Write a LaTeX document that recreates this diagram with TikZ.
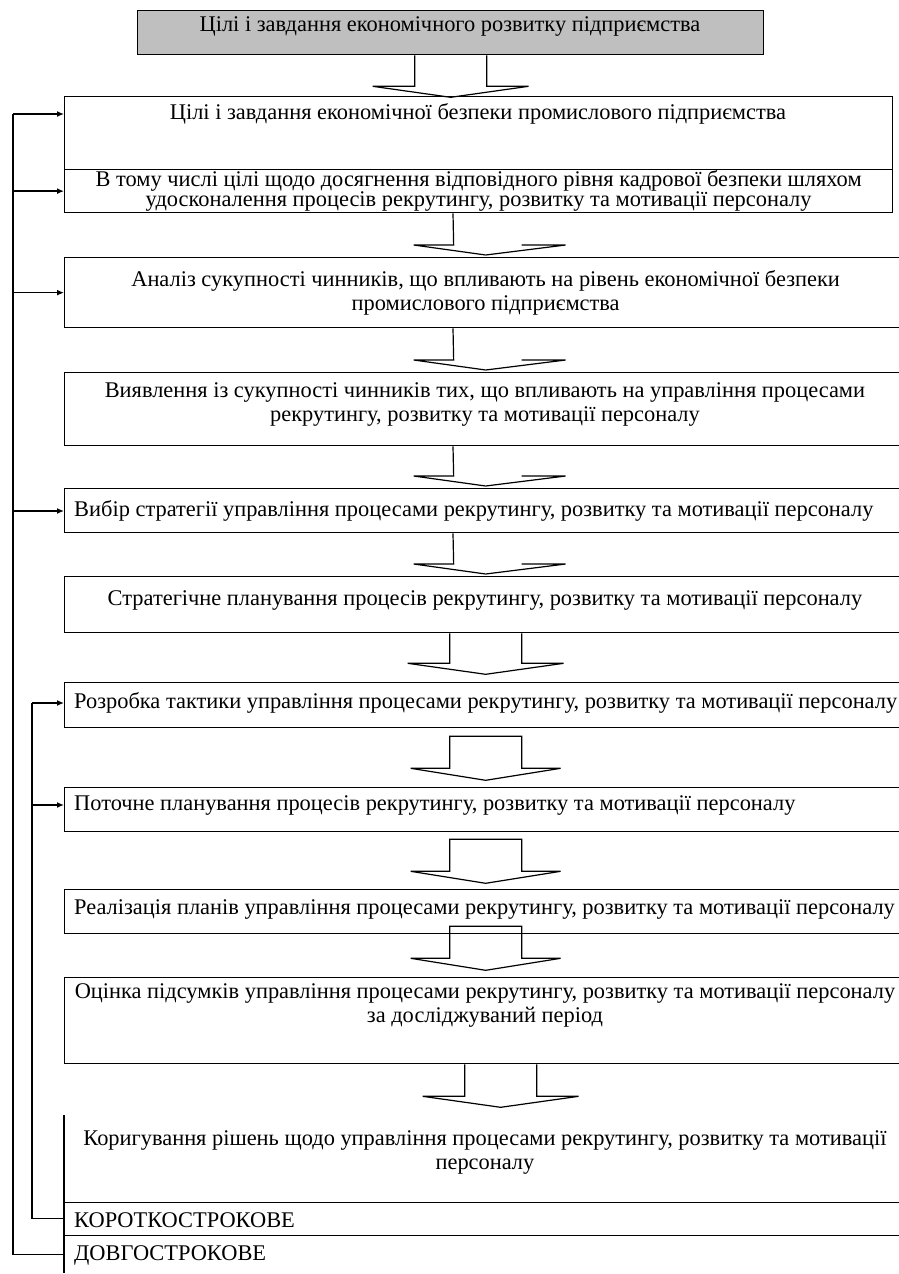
\documentclass[tikz,border=0pt]{standalone}
\usepackage{fontspec}
\setmainfont{Liberation Serif}
\usetikzlibrary{arrows.meta}

\begin{document}
\begin{tikzpicture}[x=1pt,y=-1pt,
  box/.style={draw=black, line width=1.3pt, inner sep=0pt, anchor=north west},
  slot/.style={inner sep=0pt, anchor=north west},
  txt/.style={font=\fontsize{22.4}{24}\selectfont, inner sep=0pt, align=center},
  blk/.style={draw=black, line width=1.2pt},
  fb/.style={line width=1.4pt},
  fbarr/.style={line width=1.4pt, -{Latex[length=7pt,width=6pt]}}]
\useasboundingbox (0,0) rectangle (899,1274);
\clip (0,0) rectangle (899,1274);

% boxes
\node[box, fill=black!25, minimum width=626pt, minimum height=44pt] (b1) at (137,10) {};
\node[box, minimum width=828pt, minimum height=73pt] (b2) at (64,96) {};
\node[box, minimum width=828pt, minimum height=43pt] (b2s) at (64,169) {};
\node[box, minimum width=842pt, minimum height=70pt] (b3) at (64,257) {};
\node[box, minimum width=842pt, minimum height=73pt] (b4) at (64,372) {};
\node[box, minimum width=842pt, minimum height=44pt] (b5) at (64,488) {};
\node[box, minimum width=842pt, minimum height=56pt] (b6) at (64,576) {};
\node[box, minimum width=842pt, minimum height=45pt] (b7) at (64,682) {};
\node[box, minimum width=842pt, minimum height=44pt] (b8) at (64,787) {};
\node[box, minimum width=842pt, minimum height=44pt] (b9) at (64,889) {};
\node[box, minimum width=842pt, minimum height=86pt] (b10) at (64,977) {};
\node[slot, minimum width=842pt, minimum height=87pt] (b11) at (64,1115) {};
\node[slot, minimum width=842pt, minimum height=33pt] (b12) at (64,1202) {};
\node[slot, minimum width=842pt, minimum height=38pt] (b13) at (64,1235) {};
\draw[line width=1.3pt] (b11.north west) -- (b13.south west);
\draw[line width=1.3pt] (b11.south west) -- (b11.south east);
\draw[line width=1.3pt] (b12.south west) -- (b12.south east);

% texts
\node[txt] (t1) at (450,27) {Цілі і завдання економічного розвитку підприємства};
\node[txt] (t2) at (478,114) {Цілі і завдання економічної безпеки промислового підприємства};
\node[txt, font=\fontsize{22.4}{20}\selectfont] (t2s) at (b2s.center) {В тому числі цілі щодо досягнення відповідного рівня кадрової безпеки шляхом\\удосконалення процесів рекрутингу, розвитку та мотивації персоналу};
\node[txt] (t3) at (b3.center) {Аналіз сукупності чинників, що впливають на рівень економічної безпеки\\промислового підприємства};
\node[txt] (t4) at (485,404) {Виявлення із сукупності чинників тих, що впливають на управління процесами\\рекрутингу, розвитку та мотивації персоналу};
\node[txt, anchor=west] (t5) at (74,511) {Вибір стратегії управління процесами рекрутингу, розвитку та мотивації персоналу};
\node[txt] (t6) at (485,600) {Стратегічне планування процесів рекрутингу, розвитку та мотивації персоналу};
\node[txt, anchor=west] (t7) at (74,703) {Розробка тактики управління процесами рекрутингу, розвитку та мотивації персоналу};
\node[txt, anchor=west] (t8) at (74,805) {Поточне планування процесів рекрутингу, розвитку та мотивації персоналу};
\node[txt, anchor=west] (t9) at (74,909) {Реалізація планів управління процесами рекрутингу, розвитку та мотивації персоналу};
\node[txt] (t10) at (485,1005) {Оцінка підсумків управління процесами рекрутингу, розвитку та мотивації персоналу\\за досліджуваний період};
\node[txt] (t11) at (485,1152) {Коригування рішень щодо управління процесами рекрутингу, розвитку та мотивації\\персоналу};
\node[txt, anchor=west] (t12) at (74,1220) {КОРОТКОСТРОКОВЕ};
\node[txt, anchor=west] (t13) at (74,1255) {ДОВГОСТРОКОВЕ};

% block arrows, open tail
\foreach \u/\s/\L in {b1/0/31, b6/0/30, b10/15/32}{
\draw[blk] ([xshift={\s-36}]\u.south) -- ++(0,\L) -- ++(-42,0) -- ++(78,11) -- ++(78,-11) -- ++(-42,0) -- ++(0,-\L);}

% block arrows, only left side of shaft left
\coordinate (sh) at (453,0);
\foreach \u/\l in {b2s/b3, b3/b4, b4/b5, b5/b6}{
\draw[blk] ([yshift=2pt]\l.north) -- ++(-72,-10) -- ++(40,0) -- (sh |- \u.south);
\draw[blk] ([yshift=2pt]\l.north) -- ++(80,-10) -- ++(-44,0);}

% block arrows, closed
\foreach \u/\o in {b7/-8, b8/-7, b9/8}{
\draw[blk] ([xshift=-36pt,yshift={\o}]\u.south) -- ++(72,0) -- ++(0,32) -- ++(39,0) -- ++(-75,12) -- ++(-75,-12) -- ++(39,0) -- cycle;}

% feedback lines
\coordinate (lo) at (13,0);
\coordinate (li) at (32,0);
\draw[fb] (b13.west) -| (lo |- t2);
\draw[fb] (b12.west) -| (li |- t7);
\foreach \t/\b in {t2/b2, t2s/b2s, t3/b3, t5/b5}{
\draw[fbarr] (lo |- \t) -- (\b.west |- \t);}
\foreach \t/\b in {t7/b7, t8/b8}{
\draw[fbarr] (li |- \t) -- (\b.west |- \t);}
\end{tikzpicture}
\end{document}
